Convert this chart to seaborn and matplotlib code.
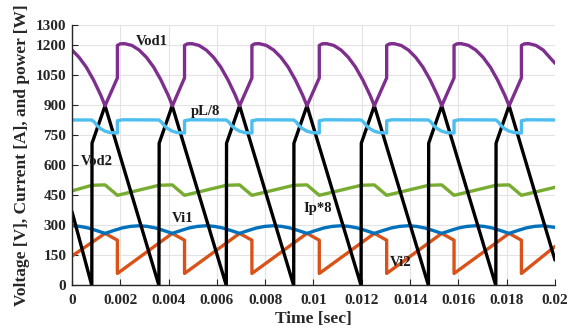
import matplotlib
matplotlib.use("Agg")
import matplotlib.pyplot as plt
import seaborn as sns
import pandas as pd

# ---- waveform samples (time in s, value in plot units) ----
vod1_t = [0, 0.00029, 0.00059, 0.00089, 0.00119, 0.00137,
          0.00188, 0.00188, 0.00200, 0.00218, 0.00248, 0.00278, 0.00308, 0.00338, 0.00368, 0.00398, 0.00416,
          0.00466, 0.00466, 0.00478, 0.00496, 0.00526, 0.00556, 0.00586, 0.00616, 0.00646, 0.00676, 0.00694,
          0.00745, 0.00745, 0.00757, 0.00775, 0.00805, 0.00835, 0.00865, 0.00895, 0.00925, 0.00955, 0.00973,
          0.01024, 0.01024, 0.01036, 0.01054, 0.01084, 0.01114, 0.01144, 0.01174, 0.01204, 0.01234, 0.01252,
          0.01303, 0.01303, 0.01315, 0.01333, 0.01363, 0.01393, 0.01423, 0.01453, 0.01483, 0.01513, 0.01531,
          0.01582, 0.01582, 0.01594, 0.01612, 0.01642, 0.01672, 0.01702, 0.01732, 0.01762, 0.01792, 0.01810,
          0.01861, 0.01861, 0.01873, 0.01891, 0.01921, 0.01951, 0.02]
vod1_v = [1175, 1139, 1090, 1026, 950, 897,
          1036, 1198, 1206, 1207, 1198, 1175, 1139, 1090, 1026, 950, 897,
          1036, 1198, 1206, 1207, 1198, 1175, 1139, 1090, 1026, 950, 897,
          1036, 1198, 1206, 1207, 1198, 1175, 1139, 1090, 1026, 950, 897,
          1036, 1198, 1206, 1207, 1198, 1175, 1139, 1090, 1026, 950, 897,
          1036, 1198, 1206, 1207, 1198, 1175, 1139, 1090, 1026, 950, 897,
          1036, 1198, 1206, 1207, 1198, 1175, 1139, 1090, 1026, 950, 897,
          1036, 1198, 1206, 1207, 1198, 1175, 1109]

pl_t = [0, 0.00082, 0.00093, 0.00103, 0.00118, 0.00137, 0.00158, 0.00188, 0.00188, 0.00210,
        0.00360, 0.00371, 0.00381, 0.00396, 0.00415, 0.00436, 0.00466, 0.00466, 0.00488,
        0.00639, 0.00650, 0.00660, 0.00675, 0.00694, 0.00715, 0.00745, 0.00745, 0.00767,
        0.00918, 0.00929, 0.00939, 0.00954, 0.00973, 0.00994, 0.01024, 0.01024, 0.01046,
        0.01197, 0.01208, 0.01218, 0.01233, 0.01252, 0.01273, 0.01303, 0.01303, 0.01325,
        0.01476, 0.01487, 0.01497, 0.01512, 0.01531, 0.01552, 0.01582, 0.01582, 0.01604,
        0.01755, 0.01766, 0.01776, 0.01791, 0.01810, 0.01831, 0.01861, 0.01861, 0.01883, 0.02]
pl_v = [826, 826, 815, 799, 783, 770, 763, 761, 822, 827,
        826, 815, 799, 783, 770, 763, 761, 822, 827,
        826, 815, 799, 783, 770, 763, 761, 822, 827,
        826, 815, 799, 783, 770, 763, 761, 822, 827,
        826, 815, 799, 783, 770, 763, 761, 822, 827,
        826, 815, 799, 783, 770, 763, 761, 822, 827,
        826, 815, 799, 783, 770, 763, 761, 822, 827, 826]

vod2_t = [0, 0.00082, 0.00137, 0.00188, 0.00360, 0.00415, 0.00466, 0.00639, 0.00694, 0.00745,
          0.00918, 0.00973, 0.01024, 0.01197, 0.01252, 0.01303, 0.01476, 0.01531, 0.01582,
          0.01755, 0.01810, 0.01861, 0.02]
vod2_v = [472, 500, 502, 450, 500, 502, 450, 500, 502, 450,
          500, 502, 450, 500, 502, 450, 500, 502, 450,
          500, 502, 450, 490]

vi1_t = [0, 0.00032, 0.00067, 0.00102, 0.00137,
         0.00172, 0.00207, 0.00242, 0.00277, 0.00311, 0.00346, 0.00381, 0.00415,
         0.00450, 0.00485, 0.00520, 0.00555, 0.00589, 0.00624, 0.00659, 0.00694,
         0.00729, 0.00764, 0.00799, 0.00834, 0.00868, 0.00903, 0.00938, 0.00973,
         0.01008, 0.01043, 0.01078, 0.01113, 0.01147, 0.01182, 0.01217, 0.01252,
         0.01287, 0.01322, 0.01357, 0.01392, 0.01426, 0.01461, 0.01496, 0.01531,
         0.01566, 0.01601, 0.01636, 0.01671, 0.01705, 0.01740, 0.01775, 0.01810,
         0.01845, 0.01880, 0.01915, 0.01950, 0.02]
vi1_v = [298, 295, 287, 274, 260,
         274, 287, 295, 298, 295, 287, 274, 260,
         274, 287, 295, 298, 295, 287, 274, 260,
         274, 287, 295, 298, 295, 287, 274, 260,
         274, 287, 295, 298, 295, 287, 274, 260,
         274, 287, 295, 298, 295, 287, 274, 260,
         274, 287, 295, 298, 295, 287, 274, 260,
         274, 287, 295, 298, 290]

ip_t = [0, 0.00082, 0.00083, 0.00137, 0.00360, 0.00361, 0.00415, 0.00639, 0.00640, 0.00694,
        0.00918, 0.00919, 0.00973, 0.01197, 0.01198, 0.01252, 0.01476, 0.01477, 0.01531,
        0.01755, 0.01756, 0.01810, 0.02]
ip_v = [369, 0, 710, 897, 0, 710, 897, 0, 710, 897,
        0, 710, 897, 0, 710, 897, 0, 710, 897,
        0, 710, 897, 127]

vi2_t = [0, 0.00137, 0.00188, 0.00188, 0.00415, 0.00466, 0.00466, 0.00694, 0.00745, 0.00745,
         0.00973, 0.01024, 0.01024, 0.01252, 0.01303, 0.01303, 0.01531, 0.01582, 0.01582,
         0.01810, 0.01861, 0.01861, 0.02]
vi2_v = [147, 260, 226, 60, 260, 226, 60, 260, 226, 60,
         260, 226, 60, 260, 226, 60, 260, 226, 60,
         260, 226, 60, 195]

x_ticks = [0, 0.002, 0.004, 0.006, 0.008, 0.01, 0.012, 0.014, 0.016, 0.018, 0.02]
x_tick_labels = ["0", "0.002", "0.004", "0.006", "0.008", "0.01", "0.012", "0.014",
                 "0.016", "0.018", "0.02"]
y_ticks = [0, 150, 300, 450, 600, 750, 900, 1050, 1200, 1300]

# name, times, values, colour, label position
series = [
    ("Vi2", vi2_t, vi2_v, "#D95319", (0.0136, 114)),
    ("Vi1", vi1_t, vi1_v, "#0072BD", (0.0046, 336)),
    ("Vod2", vod2_t, vod2_v, "#77AC30", (0.00102, 619)),
    ("Ip*8", ip_t, ip_v, "#000000", (0.01016, 386)),
    ("pL/8", pl_t, pl_v, "#4DBEEE", (0.00554, 869)),
    ("Vod1", vod1_t, vod1_v, "#7E2F8E", (0.0033, 1219)),
]

sns.set_theme(style="whitegrid")
plt.rcParams["font.family"] = ["Liberation Serif", "DejaVu Serif"]
plt.rcParams["font.weight"] = "bold"

fig = plt.figure(figsize=(5.75, 3.31), dpi=100)
ax = fig.add_axes([0.1252, 0.1375, 0.8400, 0.7870])

for name, t, v, color, (lx, ly) in series:
    df = pd.DataFrame({"t": t, "v": v})
    sns.lineplot(data=df, x="t", y="v", ax=ax, color=color, linewidth=2.4,
                 sort=False, estimator=None)
    ax.text(lx, ly, name, ha="center", va="center", fontsize=10.5,
            fontweight="bold", color="#1a1a1a")

ax.set_xlim(0, 0.02)
ax.set_ylim(0, 1300)
ax.set_xticks(x_ticks)
ax.set_xticklabels(x_tick_labels)
ax.set_yticks(y_ticks)
ax.set_xlabel("Time [sec]", fontsize=12.5, fontweight="bold", color="#262626", labelpad=3)
ax.set_ylabel("Voltage [V], Current [A], and power [W]", fontsize=12.5,
              fontweight="bold", color="#262626", labelpad=4)

ax.set_facecolor("white")
ax.grid(True, color="#e3e3e3", linewidth=0.8)
for side in ("top", "right"):
    ax.spines[side].set_visible(False)
for side in ("left", "bottom"):
    ax.spines[side].set_visible(True)
    ax.spines[side].set_color("#262626")
    ax.spines[side].set_linewidth(1.0)
ax.tick_params(axis="both", direction="in", length=4, width=0.8, color="#262626",
               labelsize=11, labelcolor="#262626", left=True, bottom=True)
ax.tick_params(axis="x", pad=6)
ax.tick_params(axis="y", pad=4)
for lab in ax.get_xticklabels() + ax.get_yticklabels():
    lab.set_fontweight("bold")

fig.savefig("out.png", dpi=100, facecolor="white")
